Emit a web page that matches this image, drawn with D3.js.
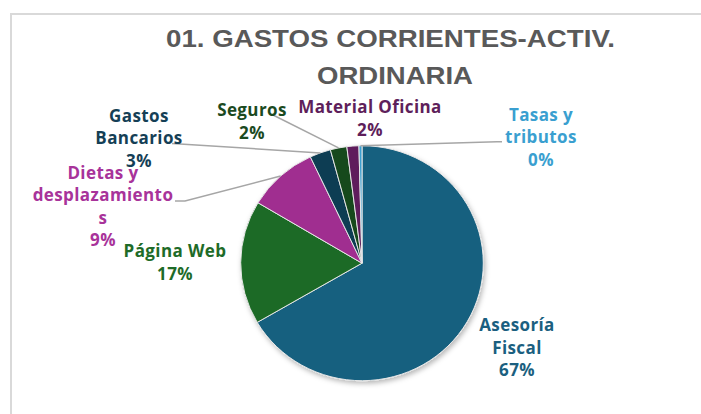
<!DOCTYPE html>
<html><head><meta charset="utf-8">
<script src="https://cdn.jsdelivr.net/npm/d3@7"></script>
<style>
html,body{margin:0;padding:0;background:#fff;}
svg{display:block;}
</style>
</head><body>
<svg id="c" width="701" height="414"></svg>
<script>
// ---- data ----
const categories = ["Asesoría Fiscal","Página Web","Dietas y desplazamientos","Gastos Bancarios","Seguros","Material Oficina","Tasas y tributos"];
const values = [66.6, 17.0, 9.4, 2.8, 2.2, 1.6, 0.4];
const colors = ["#19607f","#1d6b27","#a02f90","#113c52","#16491c","#5e1f5b","#3a9fd0"];
const labelColors = ["#1b5f80","#1e6b28","#a8339a","#153f56","#1b4a1f","#5e1f5b","#3a9fd0"];
const labelLines = [["Asesoría","Fiscal"],["Página Web"],["Dietas y","desplazamiento","s"],["Gastos","Bancarios"],["Seguros"],["Material Oficina"],["Tasas y","tributos"]];
const titleLines = ["01. GASTOS CORRIENTES-ACTIV.","ORDINARIA"];

// ---- layout ----
const W = 701, H = 414;
const cx = 362, cy = 263.2, rx = 121.3, ry = 117.5;
const labelPos = [
  {x:517, y:331}, {x:175, y:257}, {x:103, y:178.5}, {x:139, y:121.7},
  {x:252, y:116}, {x:370, y:113.3}, {x:541, y:120.7}
];
const leaderStart = [null, null, [[175,201],[185,201]], [[172,143.5]], [[273,115]], null, [[502,141.7],[497,141.7]]];

const svg = d3.select("#c");
const defs = svg.append("defs");
const f = defs.append("filter").attr("id","sh").attr("x","-20%").attr("y","-20%").attr("width","140%").attr("height","140%");
f.append("feDropShadow").attr("dx",1.5).attr("dy",2.5).attr("stdDeviation",2.5).attr("flood-color","#000").attr("flood-opacity",0.28);

// chart border
svg.append("path").attr("d",`M11,${H+5} L11,14 L${W+5},14`).attr("fill","none").attr("stroke","#d9d9d9").attr("stroke-width",2);

// title
const tl = svg.append("g").attr("fill","#595959").attr("font-family","'Liberation Sans','Arial',sans-serif").attr("font-weight","bold").attr("font-size",23);
tl.append("text").attr("x",166).attr("y",47).attr("textLength",449).attr("lengthAdjust","spacingAndGlyphs").text(titleLines[0]);
tl.append("text").attr("x",317).attr("y",83.5).attr("textLength",156).attr("lengthAdjust","spacingAndGlyphs").text(titleLines[1]);

// pie
const data = categories.map((c,i)=>({name:c, value:values[i], i}));
const total = d3.sum(values);
const pie = d3.pie().value(d=>d.value).sort(null).startAngle(0).endAngle(2*Math.PI);
const arcs = pie(data);
const arc = d3.arc().innerRadius(0).outerRadius(rx);

const pg = svg.append("g").attr("filter","url(#sh)");
const g = pg.append("g").attr("transform",`translate(${cx},${cy}) scale(1,${ry/rx})`);
g.selectAll("path").data(arcs).join("path")
  .attr("d",arc)
  .attr("fill",d=>colors[d.data.i])
  .attr("stroke","#e8e8e8").attr("stroke-width",1);

// leader lines
const edgePt = a => {
  const m = (a.startAngle + a.endAngle)/2;
  return [cx + rx*Math.sin(m), cy - ry*Math.cos(m)];
};
const line = d3.line();
arcs.forEach(a=>{
  const s = leaderStart[a.data.i];
  if(!s) return;
  svg.append("path").attr("d", line([...s, edgePt(a)]))
    .attr("fill","none").attr("stroke","#a6a6a6").attr("stroke-width",1.5);
});

// labels
const lh = 22.5;
arcs.forEach(a=>{
  const i = a.data.i, p = labelPos[i];
  const lines = [...labelLines[i], Math.round(a.data.value/total*100)+"%"];
  const t = svg.append("text").attr("text-anchor","middle")
    .attr("font-family","'Open Sans','Noto Sans',sans-serif").attr("font-weight",700).attr("font-size",17)
    .attr("letter-spacing",0.4)
    .attr("fill",labelColors[i]);
  lines.forEach((l,k)=>t.append("tspan").attr("x",p.x).attr("y",p.y + k*lh).text(l));
});
</script>
</body></html>
